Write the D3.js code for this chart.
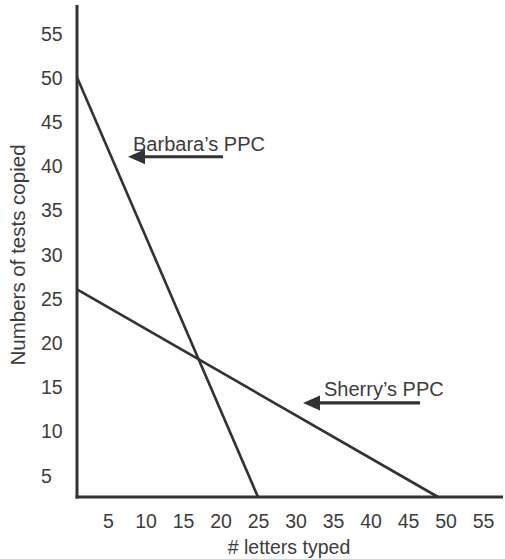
<!DOCTYPE html>
<html>
<head>
<meta charset="utf-8">
<script src="https://cdn.jsdelivr.net/npm/d3@7"></script>
<style>
  html, body { margin: 0; padding: 0; background: #fff; }
  svg { display: block; font-family: "Liberation Sans", Arial, Helvetica, sans-serif; }
</style>
</head>
<body>
<svg id="chart" width="505" height="559"></svg>
<script>
// ---- data ----
const xTicks = [5, 10, 15, 20, 25, 30, 35, 40, 45, 50, 55];
const yTicks = [5, 10, 15, 20, 25, 30, 35, 40, 45, 50, 55];
const ppcNames = ["Barbara’s PPC", "Sherry’s PPC"];
const ppcMaxTests = [50, 26];     // y-intercepts (tests copied)
const ppcMaxLetters = [25, 49];   // x-intercepts (letters typed)
const labelAt = [[7.67, 41], [31, 13.15]];   // where each label arrow points (letters, tests)
const xTitle = "# letters typed";
const yTitle = "Numbers of tests copied";

// ---- layout ----
const svg = d3.select("#chart");
const ink = "#303234";
const textCol = "#3c3c3c";
const axisX = 77, axisY = 497, axisTop = 5, axisRight = 503;
const fontFam = "'Liberation Sans', Arial, sans-serif";

const x = d3.scaleLinear().domain([0, 55]).range([70.5, 483]);
const y = d3.scaleLinear().domain([0, 55]).range([519.2, 33]);

// axes frame
svg.append("line").attr("x1", axisX).attr("x2", axisX).attr("y1", axisTop).attr("y2", axisY + 1.5)
  .attr("stroke", ink).attr("stroke-width", 3);
svg.append("line").attr("x1", axisX - 1.5).attr("x2", axisRight).attr("y1", axisY).attr("y2", axisY)
  .attr("stroke", ink).attr("stroke-width", 3);

// tick labels
const gx = svg.append("g").call(d3.axisBottom(x).tickValues(xTicks).tickSize(0).tickFormat(d3.format("d")));
gx.select(".domain").remove();
gx.selectAll("text").attr("y", 528).attr("dy", 0).attr("fill", textCol)
  .style("font-size", "19.5px").style("font-family", fontFam);

const gy = svg.append("g").call(d3.axisLeft(y).tickValues(yTicks).tickSize(0).tickFormat(d3.format("d")));
gy.select(".domain").remove();
gy.selectAll("text").attr("x", 41).attr("text-anchor", "start").attr("dy", "0.36em").attr("fill", textCol)
  .style("font-size", "19.5px").style("font-family", fontFam);

// titles
svg.append("text").attr("x", 289).attr("y", 554).attr("text-anchor", "middle")
  .attr("fill", textCol).style("font-size", "19.5px").text(xTitle);
svg.append("text").attr("transform", "translate(25,255) rotate(-90)").attr("text-anchor", "middle")
  .attr("fill", textCol).style("font-size", "20.5px").text(yTitle);

// PPC lines
ppcNames.forEach((name, i) => {
  svg.append("line")
    .attr("x1", axisX).attr("y1", y(ppcMaxTests[i]))
    .attr("x2", x(ppcMaxLetters[i])).attr("y2", axisY)
    .attr("stroke", ink).attr("stroke-width", 2.6);
});

// annotations
const arrowLen = [95, 117];
const labelOffset = [[5, -6], [21, -7]];
ppcNames.forEach((name, i) => {
  const tx = x(labelAt[i][0]), ty = y(labelAt[i][1]);
  svg.append("line")
    .attr("x1", tx + arrowLen[i]).attr("y1", ty)
    .attr("x2", tx + 14).attr("y2", ty)
    .attr("stroke", ink).attr("stroke-width", 3.2);
  svg.append("path")
    .attr("d", `M${tx},${ty} L${tx + 17},${ty - 7.5} L${tx + 17},${ty + 7.5} Z`)
    .attr("fill", ink);
  svg.append("text")
    .attr("x", tx + labelOffset[i][0]).attr("y", ty + labelOffset[i][1])
    .attr("fill", textCol).style("font-size", "20px").text(name);
});
</script>
</body>
</html>
